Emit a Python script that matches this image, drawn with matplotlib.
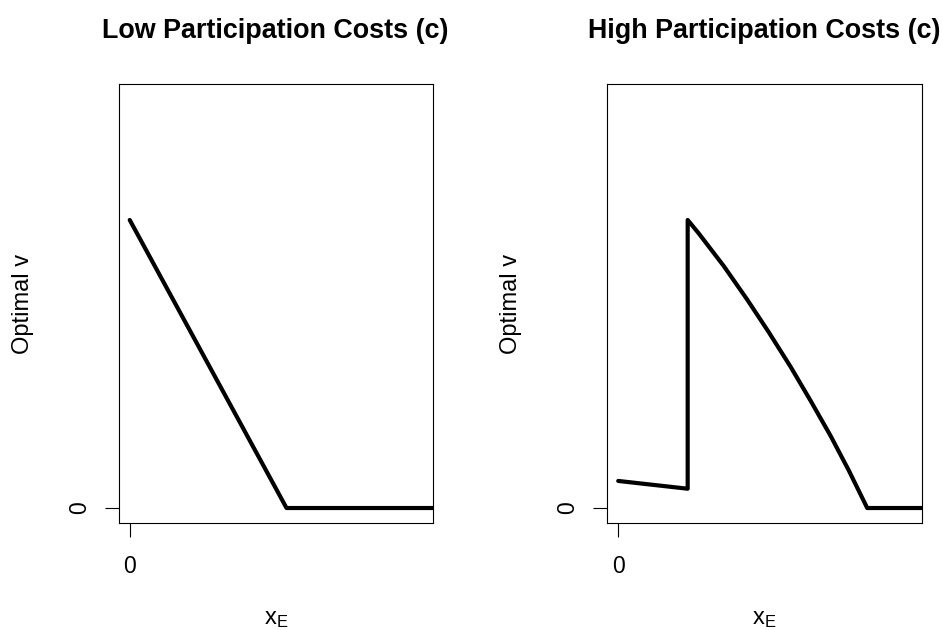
import matplotlib
matplotlib.use("Agg")
import matplotlib.pyplot as plt

plt.rcParams['font.family'] = ['Liberation Sans', 'DejaVu Sans']

# values (x and v scaled to 0..1)
low_x = [0, 0.517, 1.0]
low_v = [1.0, 0.0, 0.0]

high_x = [0, 0.229, 0.229, 0.265, 0.348, 0.425, 0.496, 0.568, 0.634,
          0.700, 0.760, 0.821, 1.0]
high_v = [0.094, 0.067, 1.0, 0.954, 0.840, 0.724, 0.611, 0.491, 0.373,
          0.251, 0.131, 0.0, 0.0]

titles = ["Low Participation Costs (c)", "High Participation Costs (c)"]
xs = [low_x, high_x]
vs = [low_v, high_v]

fig = plt.figure(figsize=(9.43, 6.3), dpi=100)

lefts = [118.5 / 943, 607 / 943]
for i in range(2):
    ax = fig.add_axes([lefts[i], 1 - 523 / 630, 314.5 / 943, 439 / 630])
    ax.plot(xs[i], vs[i], color='black', lw=3, solid_joinstyle='round',
            solid_capstyle='round')
    ax.set_xlim(-0.037, 1.0)
    ax.set_ylim(-0.052, 1.472)
    ax.set_xticks([0])
    ax.set_yticks([0])
    ax.set_xticklabels(['0'])
    ax.set_yticklabels(['0'], rotation=90, va='center')
    ax.tick_params(direction='out', length=10, width=0.8, labelsize=16.5)
    ax.tick_params(axis='x', pad=13)
    ax.tick_params(axis='y', pad=10)
    for s in ax.spines.values():
        s.set_linewidth(0.8)
    ax.set_title(titles[i], fontsize=19.4, fontweight='bold', pad=33)
    ax.set_ylabel('Optimal v', fontsize=17)
    ax.set_xlabel(r'$\mathregular{x_E}$', fontsize=17)
    ax.yaxis.set_label_coords(-0.27, 0.5)
    ax.xaxis.set_label_coords(0.5, -0.193)

plt.savefig("out.png", dpi=100)
